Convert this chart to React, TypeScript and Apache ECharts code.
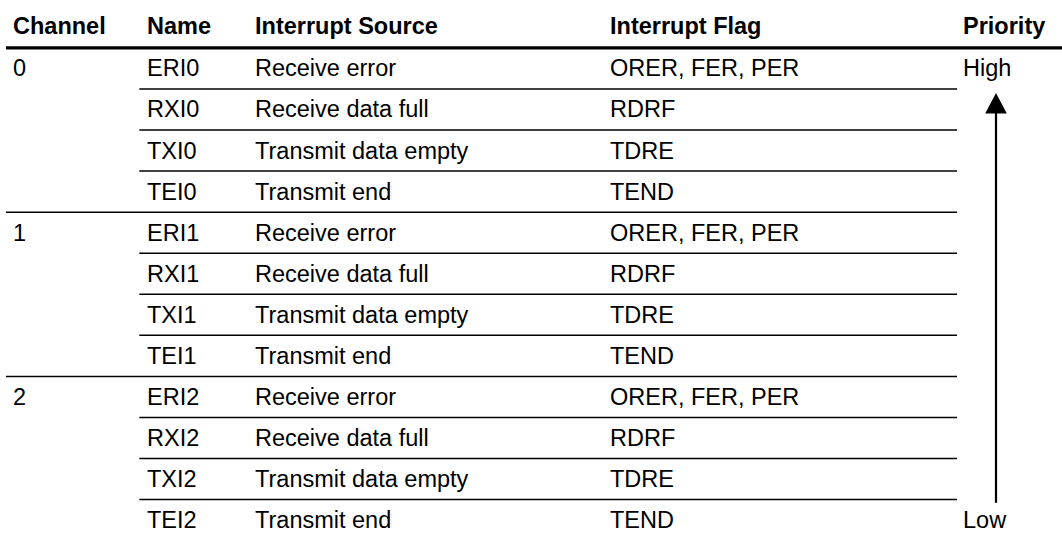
import React, { useEffect, useRef } from "react";
import * as echarts from "echarts";

// ---- data ----
const headers = ["Channel", "Name", "Interrupt Source", "Interrupt Flag", "Priority"];
const channels = ["0", "1", "2"];
const names = ["ERI0", "RXI0", "TXI0", "TEI0", "ERI1", "RXI1", "TXI1", "TEI1", "ERI2", "RXI2", "TXI2", "TEI2"];
const sources = [
  "Receive error", "Receive data full", "Transmit data empty", "Transmit end",
  "Receive error", "Receive data full", "Transmit data empty", "Transmit end",
  "Receive error", "Receive data full", "Transmit data empty", "Transmit end",
];
const flags = [
  "ORER, FER, PER", "RDRF", "TDRE", "TEND",
  "ORER, FER, PER", "RDRF", "TDRE", "TEND",
  "ORER, FER, PER", "RDRF", "TDRE", "TEND",
];
const priorityEnds = ["High", "Low"];
const rowsPerChannel = 4;

// ---- layout ----
const W = 1062;
const H = 539;
const ROW_H = 41.06;
const TOP = 47.9;
const COL_X = [13, 147, 255, 610, 963];
const LEFT_X = 6;
const NAME_LINE_X = 139.3;
const LINE_END_X = 957;
const ARROW_X = 996;
const FONT = '"Liberation Sans", Arial, Helvetica, sans-serif';
const FS = 23.5;

function txt(text: string, x: number, y: number, bold = false) {
  return {
    type: "text",
    x,
    y,
    style: {
      text,
      fill: "#000",
      fontSize: FS,
      fontFamily: FONT,
      fontWeight: bold ? "bold" : "normal",
      align: "left",
      verticalAlign: "middle",
    },
  };
}

export default function App() {
  const ref = useRef<HTMLDivElement>(null);
  useEffect(() => {
    if (!ref.current) return;
    const chart = echarts.init(ref.current, null, { renderer: "svg" });
    const rowData = names.map((_, i) => [0, i]);
    chart.setOption({
      animation: false,
      grid: { left: 0, right: 0, top: 0, bottom: 0 },
      xAxis: { type: "value", min: 0, max: W, show: false },
      yAxis: { type: "value", min: -TOP / ROW_H, max: (H - TOP) / ROW_H, inverse: true, show: false },
      series: [
        {
          type: "custom",
          clip: false,
          data: [[0, 0]],
          renderItem: (params: any, api: any) => {
            const yc = api.coord([0, -0.537])[1];
            const y0 = api.coord([0, 0])[1];
            const children: any[] = headers.map((h, c) => txt(h, COL_X[c], yc, true));
            children.push({
              type: "line",
              shape: { x1: LEFT_X, y1: y0, x2: W, y2: y0 },
              style: { stroke: "#000", lineWidth: 3.3 },
            });
            return { type: "group", children };
          },
        },
        {
          type: "custom",
          clip: false,
          data: rowData,
          renderItem: (params: any, api: any) => {
            const i = params.dataIndex;
            const yc = api.coord([0, i + 0.5])[1];
            const yTop = api.coord([0, i])[1];
            const children: any[] = [];
            if (i % rowsPerChannel === 0) {
              children.push(txt(channels[i / rowsPerChannel], COL_X[0], yc));
            }
            children.push(txt(names[i], COL_X[1], yc));
            children.push(txt(sources[i], COL_X[2], yc));
            children.push(txt(flags[i], COL_X[3], yc));
            if (i === 0) children.push(txt(priorityEnds[0], COL_X[4], yc));
            if (i === names.length - 1) children.push(txt(priorityEnds[1], COL_X[4], yc));
            if (i > 0) {
              const startX = i % rowsPerChannel === 0 ? LEFT_X : NAME_LINE_X;
              children.push({
                type: "line",
                shape: { x1: startX, y1: yTop, x2: LINE_END_X, y2: yTop },
                style: { stroke: "#000", lineWidth: 1.5 },
              });
            }
            return { type: "group", children };
          },
        },
        {
          type: "custom",
          clip: false,
          data: [[0, 0]],
          renderItem: (params: any, api: any) => {
            const tip = api.coord([0, 1.1])[1];
            const base = api.coord([0, 1.6])[1];
            const bottom = api.coord([0, names.length - 1 + 0.08])[1];
            return {
              type: "group",
              children: [
                {
                  type: "line",
                  shape: { x1: ARROW_X, y1: base - 2, x2: ARROW_X, y2: bottom },
                  style: { stroke: "#000", lineWidth: 2.2 },
                },
                {
                  type: "polygon",
                  shape: { points: [[ARROW_X, tip], [ARROW_X - 10.8, base], [ARROW_X + 10.8, base]] },
                  style: { fill: "#000" },
                },
              ],
            };
          },
        },
      ],
    });
    return () => chart.dispose();
  }, []);
  return (
    <div
      ref={ref}
      style={{ position: "fixed", left: 0, top: 0, width: W, height: H, background: "#fff" }}
    />
  );
}
